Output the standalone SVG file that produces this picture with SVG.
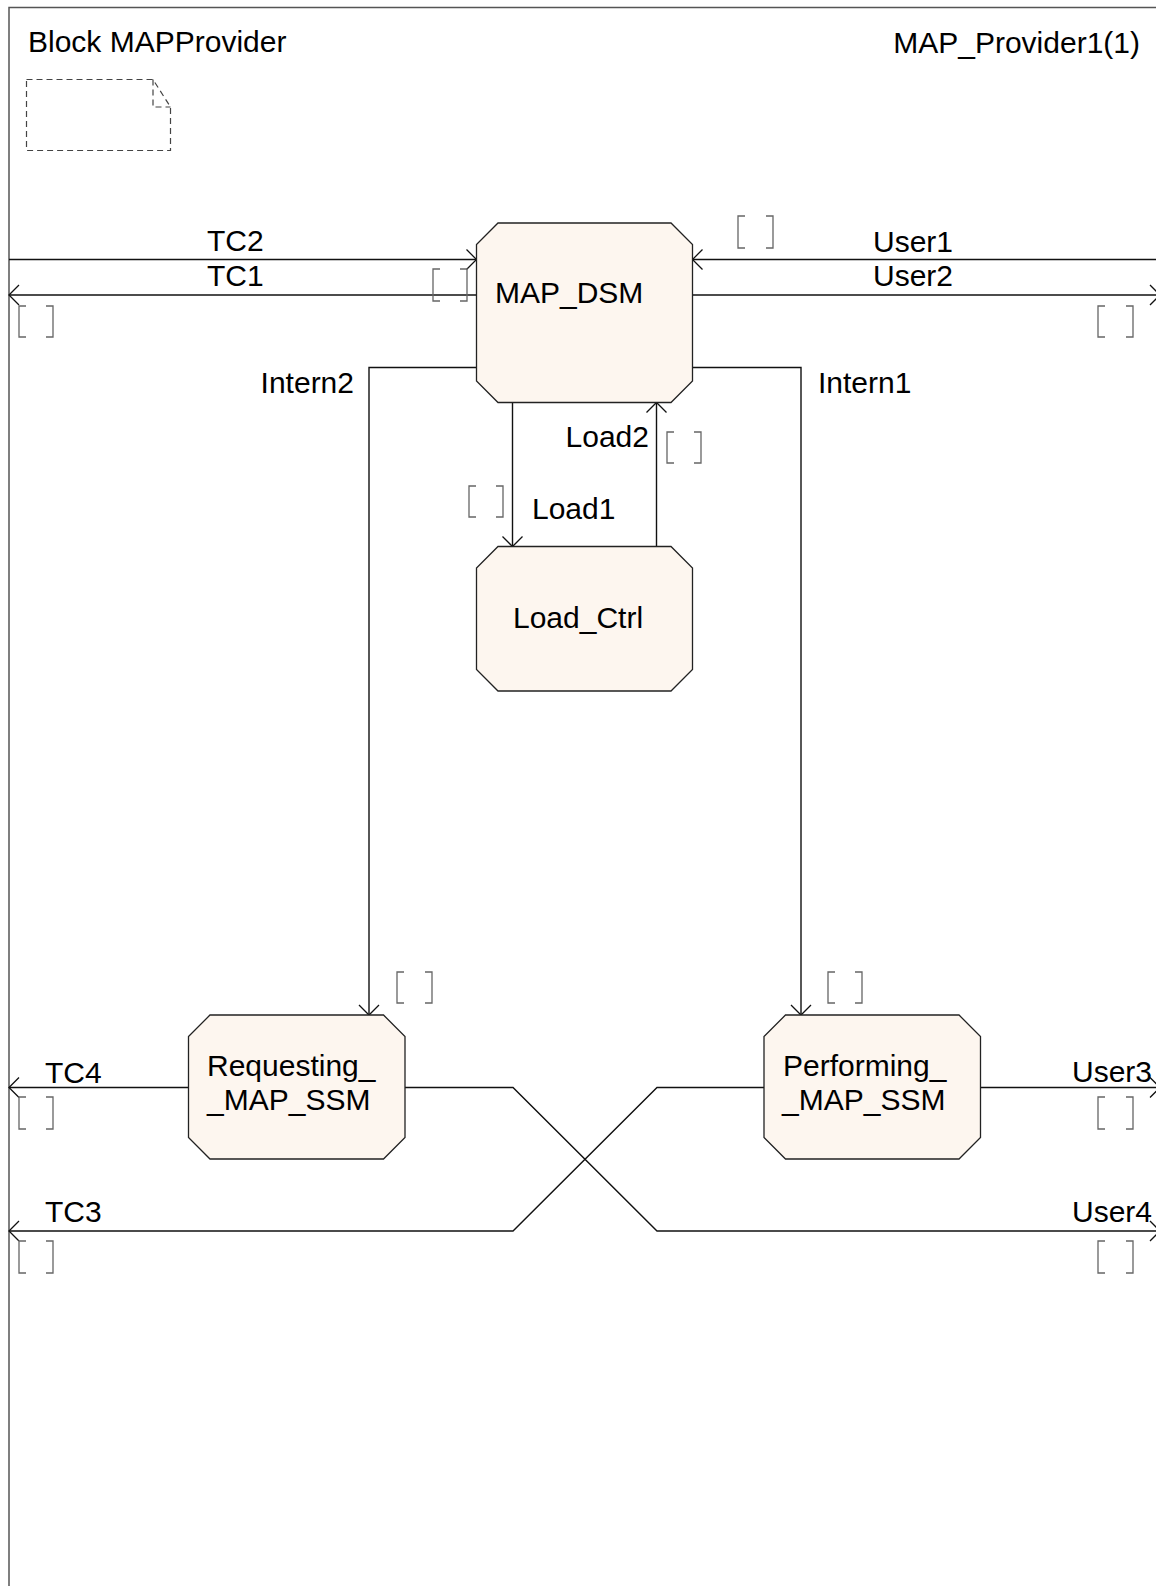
<svg xmlns="http://www.w3.org/2000/svg" width="1156" height="1586" viewBox="0 0 1156 1586">
<style>
text{font-family:"Liberation Sans",Arial,sans-serif;font-size:30px;fill:#000}
.node{fill:#fdf6ef;stroke:#222;stroke-width:1.3}
.c{fill:none;stroke:#111;stroke-width:1.4;marker-end:url(#arr)}
.br{fill:none;stroke:#666;stroke-width:1.3}
.frame{fill:none;stroke:#555;stroke-width:1.5}
.note{fill:none;stroke:#444;stroke-width:1.2;stroke-dasharray:6 4}
</style>
<defs>
<marker id="arr" markerUnits="userSpaceOnUse" markerWidth="24" markerHeight="24" viewBox="-12 -12 24 24" refX="0" refY="0" orient="auto" overflow="visible">
<path d="M-10,-10 L0,0 L-10,10" fill="none" stroke="#111" stroke-width="1.3"/>
</marker>
</defs>
<rect width="1156" height="1586" fill="#fff"/>
<g id="frame">
<path class="frame" d="M9,1590 V7.5 H1170"/>
<text x="28" y="52">Block MAPProvider</text>
<text x="1140" y="53" text-anchor="end">MAP_Provider1(1)</text>
<path class="note" d="M26.5,79.5 H153 L170.5,107 V150.5 H26.5 Z M153,79.5 V107 H170.5"/>
</g>
<g id="connectors">
<path id="tc2" class="c" d="M9,259.5 H476.5"/>
<path id="tc1" class="c" d="M476.5,295 H9"/>
<path id="user1" class="c" d="M1160,259.5 H692.5"/>
<path id="user2" class="c" d="M692.5,295 H1160"/>
<path id="intern2" class="c" d="M476.5,367.5 H369 V1015"/>
<path id="intern1" class="c" d="M692.5,367.5 H801 V1015"/>
<path id="load1" class="c" d="M512.5,402.5 V546.5"/>
<path id="load2" class="c" d="M656.5,546.5 V402.5"/>
<path id="tc4" class="c" d="M188.5,1087.5 H9"/>
<path id="tc3" class="c" d="M764,1087.5 H657 L513,1231 H9"/>
<path id="user3" class="c" d="M980.5,1087.5 H1160"/>
<path id="user4" class="c" d="M405,1087.5 H513 L657,1231 H1160"/>
<g id="labels">
<text x="207" y="251">TC2</text>
<text x="207" y="286">TC1</text>
<text x="873" y="252">User1</text>
<text x="873" y="286">User2</text>
<text x="354" y="393" text-anchor="end">Intern2</text>
<text x="818" y="393">Intern1</text>
<text x="649" y="447" text-anchor="end">Load2</text>
<text x="532" y="519">Load1</text>
<text x="45" y="1083">TC4</text>
<text x="45" y="1222">TC3</text>
<text x="1072" y="1082">User3</text>
<text x="1072" y="1222">User4</text>
</g>
<g id="brackets">
<path class="br" d="M26,306 H19 V337 H26 M46,306 H53 V337 H46"/>
<path class="br" d="M440,269 H433 V301 H440 M460,269 H467 V301 H460"/>
<path class="br" d="M745,216 H738 V248 H745 M766,216 H773 V248 H766"/>
<path class="br" d="M1105,306 H1098 V337 H1105 M1126,306 H1133 V337 H1126"/>
<path class="br" d="M476,486 H469 V517 H476 M496,486 H503 V517 H496"/>
<path class="br" d="M674,432 H667 V463 H674 M694,432 H701 V463 H694"/>
<path class="br" d="M404,972 H397 V1003 H404 M425,972 H432 V1003 H425"/>
<path class="br" d="M835,972 H828 V1003 H835 M855,972 H862 V1003 H855"/>
<path class="br" d="M26,1097 H19 V1129 H26 M46,1097 H53 V1129 H46"/>
<path class="br" d="M26,1241 H19 V1273 H26 M46,1241 H53 V1273 H46"/>
<path class="br" d="M1105,1097 H1098 V1129 H1105 M1126,1097 H1133 V1129 H1126"/>
<path class="br" d="M1105,1241 H1098 V1273 H1105 M1126,1241 H1133 V1273 H1126"/>
</g>
</g>
<g id="MAP_DSM">
<path class="node" d="M498,223 H671 L692.5,244.5 V381 L671,402.5 H498 L476.5,381 V244.5 Z"/>
<text x="495" y="303">MAP_DSM</text>
</g>
<g id="Load_Ctrl">
<path class="node" d="M498,546.5 H671 L692.5,568 V669.5 L671,691 H498 L476.5,669.5 V568 Z"/>
<text x="513" y="627.5">Load_Ctrl</text>
</g>
<g id="Requesting_MAP_SSM">
<path class="node" d="M210,1015 H383.5 L405,1036.5 V1137.5 L383.5,1159 H210 L188.5,1137.5 V1036.5 Z"/>
<text x="207" y="1076">Requesting_</text>
<text x="207" y="1110">_MAP_SSM</text>
</g>
<g id="Performing_MAP_SSM">
<path class="node" d="M785.5,1015 H959 L980.5,1036.5 V1137.5 L959,1159 H785.5 L764,1137.5 V1036.5 Z"/>
<text x="783" y="1076">Performing_</text>
<text x="782" y="1110">_MAP_SSM</text>
</g>
</svg>
